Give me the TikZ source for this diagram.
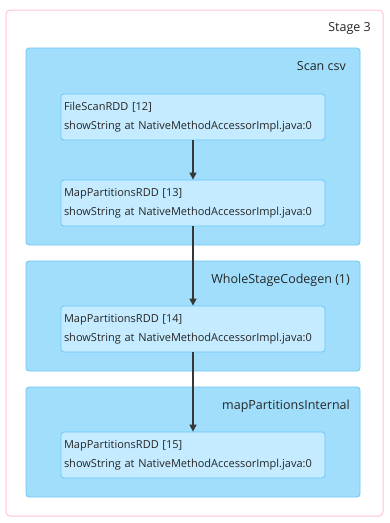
\documentclass[tikz,border=0pt]{standalone}
\usepackage{fontspec}
\setmainfont{Open Sans}
\usetikzlibrary{arrows.meta, positioning}
\definecolor{stageline}{RGB}{255,196,210}
\definecolor{clusterfill}{RGB}{160,222,252}
\definecolor{clusterline}{RGB}{110,198,246}
\definecolor{rddfill}{RGB}{196,235,255}
\definecolor{rddline}{RGB}{108,200,250}
\definecolor{edgegray}{RGB}{55,55,55}

\begin{document}
\begin{tikzpicture}[x=1pt,y=-1pt, every node/.style={font=\fontsize{11}{19}\selectfont, text=black!85}]
    \useasboundingbox (0,0) rectangle (390,523);
    % stage and clusters
    \node[draw=stageline, line width=1pt, rounded corners=4pt, fill=white, minimum width=377pt, minimum height=506pt, inner sep=0pt] (stage) at (194.5,263) {};
    \node[anchor=north east, font=\fontsize{12.5}{14}\selectfont, inner sep=0pt] (stagelbl) at (371,22) {Stage 3};
    \node[draw=clusterline, line width=0.8pt, rounded corners=3pt, fill=clusterfill, minimum width=334pt, minimum height=197pt, inner sep=0pt] (scan) at (193,146.5) {};
    \node[anchor=north east, font=\fontsize{12.5}{14}\selectfont, inner sep=0pt] (scanlbl) at (346,61) {Scan csv};
    \node[draw=clusterline, line width=0.8pt, rounded corners=3pt, fill=clusterfill, minimum width=334pt, minimum height=110pt, inner sep=0pt] (wscg) at (193,316) {};
    \node[anchor=north east, font=\fontsize{12.5}{14}\selectfont, inner sep=0pt] (wscglbl) at (350,274) {WholeStageCodegen (1)};
    \node[draw=clusterline, line width=0.8pt, rounded corners=3pt, fill=clusterfill, minimum width=334pt, minimum height=110pt, inner sep=0pt] (mpi) at (193,442) {};
    \node[anchor=north east, font=\fontsize{12.5}{14}\selectfont, inner sep=0pt] (mpilbl) at (350,400) {mapPartitionsInternal};
    % rdds
    \node[draw=rddline, line width=0.8pt, rounded corners=3pt, fill=rddfill, minimum width=264pt, minimum height=46pt, align=left, text width=258pt, inner sep=2pt] (rdd12) at (193,117) {FileScanRDD [12]\\showString at NativeMethodAccessorImpl.java:0};
    \node[draw=rddline, line width=0.8pt, rounded corners=3pt, fill=rddfill, minimum width=264pt, minimum height=46pt, align=left, text width=258pt, inner sep=2pt] (rdd13) at (193,203) {MapPartitionsRDD [13]\\showString at NativeMethodAccessorImpl.java:0};
    \node[draw=rddline, line width=0.8pt, rounded corners=3pt, fill=rddfill, minimum width=264pt, minimum height=46pt, align=left, text width=258pt, inner sep=2pt] (rdd14) at (193,329) {MapPartitionsRDD [14]\\showString at NativeMethodAccessorImpl.java:0};
    \node[draw=rddline, line width=0.8pt, rounded corners=3pt, fill=rddfill, minimum width=264pt, minimum height=46pt, align=left, text width=258pt, inner sep=2pt] (rdd15) at (193,455) {MapPartitionsRDD [15]\\showString at NativeMethodAccessorImpl.java:0};
    \draw[-{Triangle[length=7pt,width=7pt]}, edgegray, line width=1.3pt] (rdd12) -- (rdd13);
    \draw[-{Triangle[length=7pt,width=7pt]}, edgegray, line width=1.3pt] (rdd13) -- (rdd14);
    \draw[-{Triangle[length=7pt,width=7pt]}, edgegray, line width=1.3pt] (rdd14) -- (rdd15);
\end{tikzpicture}
\end{document}
